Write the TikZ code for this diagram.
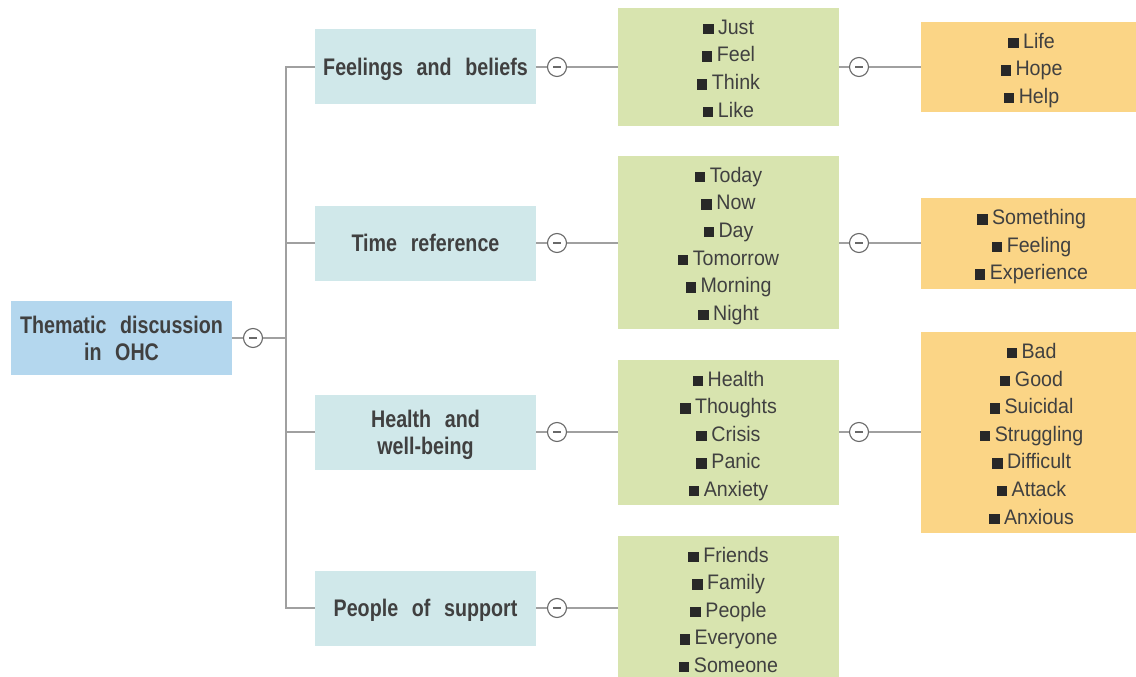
\documentclass[tikz,border=0pt]{standalone}
\usepackage{fontspec}
\setmainfont{Liberation Sans}
\newfontfamily\itemfont[FakeStretch=0.935]{Liberation Sans}
\newfontfamily\labelfont[FakeStretch=0.82,WordSpace=2.5]{Liberation Sans}

\definecolor{rootfill}{RGB}{180,215,238}
\definecolor{topicfill}{RGB}{208,232,234}
\definecolor{wordfill}{RGB}{216,228,175}
\definecolor{extrafill}{RGB}{251,213,134}
\definecolor{txt}{RGB}{64,64,64}
\definecolor{bulletcol}{RGB}{40,40,40}
\definecolor{wire}{RGB}{160,160,160}
\definecolor{knob}{RGB}{105,105,105}

% square bullet in front of each word
\newcommand\bul{\textcolor{bulletcol}{\rule{10.5pt}{10.5pt}}\hspace{4.5pt}}
% fixed first-line height and last-line depth, so the text block centres on its capitals
\newcommand\tp{\rule{0pt}{23.5pt}}
\newcommand\bt{\rule[-6pt]{0pt}{6pt}}

\tikzset{
  box/.style={inner sep=0pt, minimum width=221pt, align=center, text=txt},
  rootbox/.style={box, fill=rootfill, minimum height=74pt,
    font=\labelfont\bfseries\fontsize{24}{27}\selectfont},
  topic/.style={box, fill=topicfill, minimum height=75pt,
    font=\labelfont\bfseries\fontsize{24}{27}\selectfont},
  words/.style={box, fill=wordfill, font=\itemfont\fontsize{21}{27.6}\selectfont},
  extra/.style={box, fill=extrafill, font=\itemfont\fontsize{21}{27.6}\selectfont},
  toggle/.style={circle, draw=knob, fill=white, line width=1.1pt,
    minimum size=19pt, inner sep=0pt,
    path picture={\draw[knob, line width=1.8pt]
      ([xshift=-4pt]path picture bounding box.center) --
      ([xshift=4pt]path picture bounding box.center);}},
  link/.style={draw=wire, line width=1.8pt},
}

\begin{document}
\begin{tikzpicture}[x=1pt, y=-1pt]
\useasboundingbox (0,0) rectangle (1136,677);
\clip (0,0) rectangle (1136,677);

% root and trunk
\node[rootbox] (root) at (121.5,338) {\tp Thematic discussion\\in OHC\bt};
\node[toggle] (c0) at (253,338) {};
\coordinate (jn) at (286,338);

% topics
\node[topic] (f1) at (425.5,67)  {\tp Feelings and beliefs\bt};
\node[topic] (t1) at (425.5,243) {\tp Time reference\bt};
\node[topic] (h1) at (425.5,432) {\tp Health and\\well-being\bt};
\node[topic] (p1) at (425.5,608) {\tp People of support\bt};

\node[toggle] (fc) at (557,67)  {};
\node[toggle] (tc) at (557,243) {};
\node[toggle] (hc) at (557,432) {};
\node[toggle] (pc) at (557,608) {};

% word lists
\node[words, minimum height=118pt] (fw) at (728.5,67)
  {\tp\bul Just\\\bul Feel\\\bul Think\\\bul Like\bt};
\node[words, minimum height=173pt] (tw) at (728.5,242.5)
  {\tp\bul Today\\\bul Now\\\bul Day\\\bul Tomorrow\\\bul Morning\\\bul Night\bt};
\node[words, minimum height=145pt] (hw) at (728.5,432.5)
  {\tp\bul Health\\\bul Thoughts\\\bul Crisis\\\bul Panic\\\bul Anxiety\bt};
\node[words, minimum height=145pt] (pw) at (728.5,608.5)
  {\tp\bul Friends\\\bul Family\\\bul People\\\bul Everyone\\\bul Someone\bt};

\node[toggle] (fc2) at (859,67)  {};
\node[toggle] (tc2) at (859,243) {};
\node[toggle] (hc2) at (859,432) {};

% related words
\node[extra, minimum height=90pt] (fx) at (1031.5,67)
  {\tp\bul Life\\\bul Hope\\\bul Help\bt};
\node[extra, minimum height=91pt] (tx) at (1031.5,243.5)
  {\tp\bul Something\\\bul Feeling\\\bul Experience\bt};
\node[extra, minimum height=201pt] (hx) at (1031.5,432.5)
  {\tp\bul Bad\\\bul Good\\\bul Suicidal\\\bul Struggling\\\bul Difficult\\\bul Attack\\\bul Anxious\bt};

% connectors
\path[link] (root) -- (c0) -- (jn);
\path[link] (jn) |- (f1.west);
\path[link] (jn) |- (t1.west);
\path[link] (jn) |- (h1.west);
\path[link] (jn) |- (p1.west);

\foreach \a/\b/\c in {f1/fc/fw, t1/tc/tw, h1/hc/hw, p1/pc/pw}{
  \path[link] (\a.east |- \b) -- (\b);
  \path[link] (\b) -- (\c.west |- \b);
}
\foreach \a/\b/\c in {fw/fc2/fx, tw/tc2/tx, hw/hc2/hx}{
  \path[link] (\a.east |- \b) -- (\b);
  \path[link] (\b) -- (\c.west |- \b);
}
\end{tikzpicture}
\end{document}
